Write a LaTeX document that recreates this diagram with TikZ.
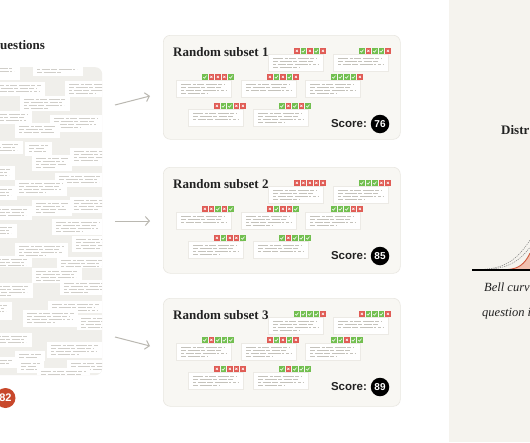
\documentclass[tikz,border=0pt]{standalone}
\usepackage{fontspec}
\setmainfont{Liberation Serif}
\newfontfamily\scorefont{Liberation Sans}
\usetikzlibrary{arrows.meta}
\definecolor{icgreen}{HTML}{72BF50}
\definecolor{icred}{HTML}{E05C55}
\definecolor{boxfill}{HTML}{F8F7F3}
\definecolor{boxedge}{HTML}{E9E7E1}
\definecolor{panelbg}{HTML}{F0EFEB}
\definecolor{rightbg}{HTML}{F5F3EE}
\definecolor{arrowgray}{HTML}{BAB8B1}
\definecolor{txt}{HTML}{222222}
\definecolor{badgered}{HTML}{C8482B}
\definecolor{bellred}{HTML}{D05A3E}
\definecolor{bellfill}{HTML}{F2C0AF}
\definecolor{linegray}{HTML}{C4C2BB}
\definecolor{cardedge}{HTML}{ECEAE5}

\newcommand\icG[2]{\fill[icgreen] (#1,#2) rectangle ++(5.8,5.8);
  \draw[white,line width=0.55pt] (#1+1.3,#2+3.0) -- (#1+2.5,#2+4.2) -- (#1+4.5,#2+1.6);}
\newcommand\icR[2]{\fill[icred] (#1,#2) rectangle ++(5.8,5.8);
  \draw[white,line width=0.55pt] (#1+1.8,#2+1.8) -- (#1+4,#2+4) (#1+4,#2+1.8) -- (#1+1.8,#2+4);}
\newcommand\icstrip[3]{\foreach \c [count=\i from 0] in {#3} {\csname ic\c\endcsname{#1+\i*6.5}{#2}}}
\newcommand\cardic[4]{%
  \filldraw[fill=white,draw=cardedge,line width=0.4pt] (#1,#2) rectangle ++(55,17);
  \draw[tlA] (#1+5,#2+4) -- ++(44,0);
  \draw[tlB] (#1+5,#2+7) -- ++(40,0);
  \draw[tlC] (#1+5,#2+10) -- ++(45,0);
  \ifnum#4>3 \draw[tlB] (#1+5,#2+13) -- ++(27,0);\fi
  \icstrip{#1+26}{#2-6}{#3}}
\newcommand\qcard[5]{%
  \fill[white] (#1,#2) rectangle ++(#3,#4);
  \draw[qlA] (#1+4,#2+3.5) -- ++(#3-8,0);
  \ifnum#5>1 \draw[qlB] (#1+4,#2+6.5) -- ++(#3-12,0);\fi
  \ifnum#5>2 \draw[qlC] (#1+4,#2+9.5) -- ++(#3-10,0);\fi
  \ifnum#5>3 \draw[qlB] (#1+4,#2+12.5) -- ++(#3*0.5,0);\fi}

\begin{document}
\begin{tikzpicture}[x=1pt,y=-1pt,
  tlA/.style={linegray,line width=0.75pt,dash pattern=on 10pt off 1.6pt on 3pt off 1.6pt on 7pt off 1.6pt on 11pt off 1.6pt on 4pt off 1.6pt},
  tlB/.style={linegray,line width=0.75pt,dash pattern=on 5pt off 1.6pt on 12pt off 1.6pt on 4pt off 1.6pt on 8pt off 1.6pt},
  tlC/.style={linegray,line width=0.75pt,dash pattern=on 3pt off 1.6pt on 8pt off 1.6pt on 6pt off 1.6pt on 13pt off 1.6pt on 2pt off 1.6pt},
  qlA/.style={tlA,draw=linegray!80},
  qlB/.style={tlB,draw=linegray!80},
  qlC/.style={tlC,draw=linegray!80},
  boxst/.style={draw=boxedge,fill=boxfill,rounded corners=7pt,line width=0.6pt,inner sep=0},
  titlest/.style={text=txt,font=\bfseries\fontsize{13}{15}\selectfont,inner sep=0},
  scoretxt/.style={text=txt,font=\scorefont\bfseries\fontsize{11.5}{13}\selectfont,inner sep=0},
  scoreball/.style={circle,fill=black,minimum size=18.5pt,inner sep=0,text=white,font=\scorefont\bfseries\fontsize{10}{11}\selectfont},
  arr/.style={arrowgray,line width=1pt,-{Straight Barb[length=4pt,width=9pt,line width=1pt]}},
  dashcurve/.style={gray,line width=0.5pt,dash pattern=on 1.2pt off 1pt}]
\useasboundingbox (0,0) rectangle (530,442);
\clip (0,0) rectangle (530,442);
\fill[white] (0,0) rectangle (530,442);

% right panel
\fill[rightbg] (449,0) rectangle (530,442);

% left questions panel
\node[text=txt,font=\bfseries\fontsize{13}{15}\selectfont,inner sep=0,anchor=base west] (qtitle) at (0,49) {uestions};
\node[fill=panelbg,rounded corners=7pt,inner sep=0,minimum width=112pt,minimum height=308pt,anchor=north west] (qpanel) at (-10,67) {};
\begin{scope}
\clip[rounded corners=7pt] (-10,67) rectangle (102,375);
\qcard{33}{60}{50}{16}{4}
\qcard{-30}{62}{50}{18}{4}
\qcard{-10}{82}{55}{14}{3}
\qcard{65}{81}{52}{16}{4}
\qcard{20}{96}{50}{15}{4}
\qcard{-20}{111}{52}{13}{3}
\qcard{50}{115}{52}{17}{4}
\qcard{15}{123}{45}{15}{3}
\qcard{-27}{141}{50}{13}{3}
\qcard{25}{142}{27}{14}{3}
\qcard{70}{148}{50}{18}{4}
\qcard{32}{155}{40}{16}{4}
\qcard{-35}{166}{50}{14}{3}
\qcard{55}{173}{50}{14}{3}
\qcard{15}{180}{52}{16}{4}
\qcard{-33}{186}{50}{14}{3}
\qcard{70}{197}{50}{16}{4}
\qcard{32}{200}{40}{16}{4}
\qcard{-18}{206}{50}{14}{3}
\qcard{52}{219}{52}{16}{4}
\qcard{-33}{224}{50}{14}{3}
\qcard{72}{236}{50}{16}{4}
\qcard{15}{243}{53}{15}{4}
\qcard{-18}{256}{50}{11}{3}
\qcard{57}{257}{50}{11}{3}
\qcard{32}{268}{50}{15}{4}
\qcard{60}{280}{50}{15}{4}
\qcard{-17}{283}{50}{15}{4}
\qcard{48}{301}{55}{12}{3}
\qcard{-38}{302}{50}{18}{4}
\qcard{23}{310}{55}{17}{4}
\qcard{77}{315}{50}{15}{4}
\qcard{-18}{333}{50}{14}{3}
\qcard{47}{342}{55}{16}{4}
\qcard{15}{351}{30}{10}{2}
\qcard{-33}{357}{50}{11}{2}
\qcard{17}{360}{27}{13}{3}
\qcard{67}{360}{50}{13}{3}
\qcard{37}{368}{53}{12}{3}
\end{scope}
\node[circle,fill=badgered,minimum size=20pt,inner sep=0,text=white,font=\scorefont\bfseries\fontsize{11}{12}\selectfont] (total) at (5.5,398) {82};

% arrows
\coordinate (a1s) at (115,105); \coordinate (a1e) at (150,96);
\coordinate (a2s) at (115,221); \coordinate (a2e) at (150,221);
\coordinate (a3s) at (115,337); \coordinate (a3e) at (150,346);
\draw[arr] (a1s) -- (a1e);
\draw[arr] (a2s) -- (a2e);
\draw[arr] (a3s) -- (a3e);

% subset 1
\def\T{35}
\node[boxst,minimum width=237pt,minimum height=104pt,anchor=north west] (sub1) at (163,\T) {};
\node[titlest,anchor=west] (t1) at (173,\T+17) {Random subset 1};
\cardic{268}{\T+19}{R,G,R,G,R}{4}
\cardic{333}{\T+19}{G,R,G,G,R}{3}
\cardic{176}{\T+45}{G,R,R,R,G}{4}
\cardic{241}{\T+45}{R,G,R,G,R}{3}
\cardic{305}{\T+45}{G,G,G,G,R}{4}
\cardic{188}{\T+74}{R,G,G,R,R}{3}
\cardic{253}{\T+74}{G,R,G,R,G}{4}
\node[scoreball] (s1) at (380,\T+89) {76};
\node[scoretxt,anchor=east] (l1) at ([xshift=-3.5pt]s1.west) {Score:};

% subset 2
\def\T{167}
\node[boxst,minimum width=237pt,minimum height=106pt,anchor=north west] (sub2) at (163,\T) {};
\node[titlest,anchor=west] (t2) at (173,\T+17) {Random subset 2};
\cardic{268}{\T+19}{R,R,R,R,R}{4}
\cardic{333}{\T+19}{G,G,G,R,R}{4}
\cardic{176}{\T+45}{R,R,G,R,G}{3}
\cardic{241}{\T+45}{R,G,R,R,G}{4}
\cardic{305}{\T+45}{G,G,G,R,R}{4}
\cardic{188}{\T+74}{R,G,R,R,G}{4}
\cardic{253}{\T+74}{G,R,G,G,G}{3}
\node[scoreball] (s2) at (380,\T+89) {85};
\node[scoretxt,anchor=east] (l2) at ([xshift=-3.5pt]s2.west) {Score:};

% subset 3
\def\T{298}
\node[boxst,minimum width=237pt,minimum height=108pt,anchor=north west] (sub3) at (163,\T) {};
\node[titlest,anchor=west] (t3) at (173,\T+17) {Random subset 3};
\cardic{268}{\T+19}{G,G,G,G,R}{4}
\cardic{333}{\T+19}{R,G,G,G,R}{3}
\cardic{176}{\T+45}{G,R,G,G,G}{4}
\cardic{241}{\T+45}{R,G,R,G,R}{4}
\cardic{305}{\T+45}{G,G,R,G,G}{4}
\cardic{188}{\T+74}{R,G,R,R,R}{4}
\cardic{253}{\T+74}{G,R,G,G,G}{4}
\node[scoreball] (s3) at (380,\T+89) {89};
\node[scoretxt,anchor=east] (l3) at ([xshift=-3.5pt]s3.west) {Score:};

% distribution panel
\node[text=txt,font=\bfseries\fontsize{13}{15}\selectfont,inner sep=0,anchor=base west] (dtitle) at (501,134) {Distr};
\fill[bellfill] plot[domain=500:530,samples=50] (\x,{270-140*exp(-0.5*((\x-565)/17)^2)}) -- (530,270) -- cycle;
\draw[dashcurve] plot[domain=478:530,samples=60] (\x,{270-83*exp(-0.5*((\x-570)/28)^2)});
\draw[dashcurve] plot[domain=478:530,samples=60] (\x,{270-83*exp(-0.5*((\x-575)/28)^2)});
\draw[bellred,line width=0.9pt] plot[domain=500:530,samples=50] (\x,{270-140*exp(-0.5*((\x-565)/17)^2)});
\draw[black,line width=1.2pt] (472,270) -- (530,270);
\node[text=txt,font=\itshape\fontsize{12.5}{14}\selectfont,inner sep=0,anchor=base west] (cap1) at (484,291) {Bell curv};
\node[text=txt,font=\itshape\fontsize{12.5}{14}\selectfont,inner sep=0,anchor=base west] (cap2) at (482,316) {question i};
\end{tikzpicture}
\end{document}
